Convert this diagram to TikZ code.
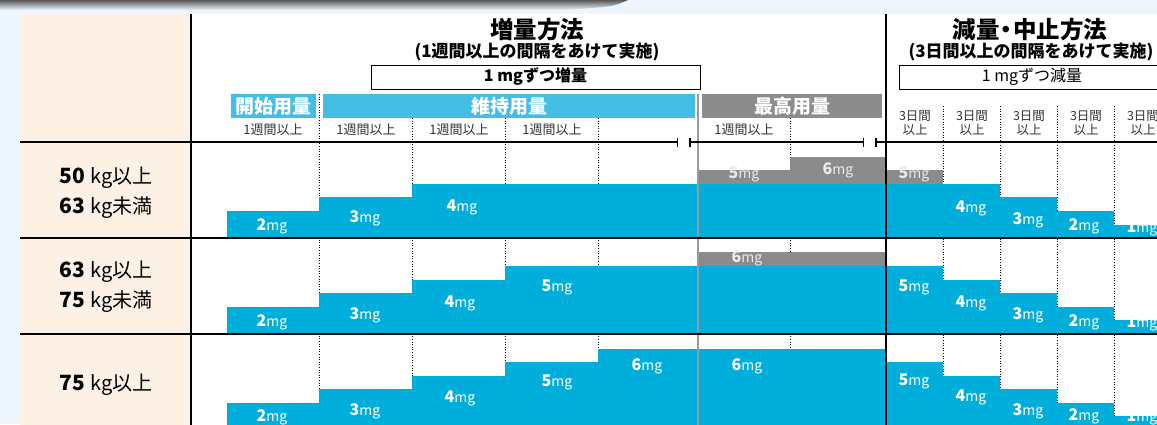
\documentclass[tikz,border=0pt]{standalone}
\usepackage{fontspec}
\setmainfont{Noto Sans CJK JP}
\usetikzlibrary{arrows.meta}
\definecolor{bgblue}{HTML}{EDF6FC}
\definecolor{peach}{HTML}{FDF1E6}
\definecolor{dosecyan}{HTML}{00AEDC}
\definecolor{hdrblue}{HTML}{45BEE6}
\definecolor{hdrgrey}{HTML}{8C8C8C}
\definecolor{dosegrey}{HTML}{8B8B8B}
\definecolor{capgrey}{HTML}{333333}
\newcommand{\dose}[1]{{\fontsize{16}{16}\selectfont\bfseries #1}{\fontsize{14}{14}\selectfont mg}}
\newcommand{\wnum}[1]{{\fontsize{21}{21}\selectfont\bfseries #1}\hspace{5pt}}

\begin{document}
\begin{tikzpicture}[x=1pt, y=-1pt,
  dotline/.style={line width=0.8pt, dash pattern=on 1pt off 1.6pt},
  dlabel/.style={text=white, inner sep=0pt},
  glabel/.style={text=black!8, inner sep=0pt},
  title/.style={font=\fontsize{23.5}{23.5}\selectfont\bfseries, inner sep=0pt},
  subtitle/.style={font=\fontsize{17}{17}\selectfont\bfseries, inner sep=0pt},
  hdrbox/.style={text=white, font=\fontsize{19}{19}\selectfont\bfseries, inner sep=0pt, minimum height=24pt},
  weekcap/.style={text=capgrey, font=\fontsize{13}{13}\selectfont, inner sep=0pt},
  daycap/.style={text=capgrey, font=\fontsize{12.5}{14}\selectfont, align=center, inner sep=0pt},
  rowlab/.style={font=\fontsize{20}{30}\selectfont, align=center, inner sep=0pt}]
\useasboundingbox (0,0) rectangle (1157,424);
\clip (0,0) rectangle (1157,424);
% background and table
\fill[bgblue] (0,0) rectangle (1157,424);
\shade[top color=black!65, bottom color=bgblue] (0,0) -- (628,0) .. controls (612,7) .. (560,10) -- (0,10) -- cycle;
\fill[white] (20,14) rectangle (1157,430);
\fill[peach] (20,14) rectangle (191,430);
% column separators
\draw[dotline] (319,94) -- (319,430);
\draw[dotline] (412,118) -- (412,430);
\draw[dotline] (505,118) -- (505,430);
\draw[dotline] (598,118) -- (598,430);
\draw[dotline] (790,118) -- (790,430);
\draw[dotline] (943,106) -- (943,430);
\draw[dotline] (1000,106) -- (1000,430);
\draw[dotline] (1057,106) -- (1057,430);
\draw[dotline] (1114,106) -- (1114,430);
% 50-63 kg
\fill[dosecyan] (227,238) -- (227,211) -- (319,211) -- (319,197) -- (412,197) -- (412,184) -- (1000,184) -- (1000,197) -- (1057,197) -- (1057,211) -- (1114,211) -- (1114,225) -- (1157,225) -- (1157,238) -- cycle;
\fill[dosegrey] (698,170) rectangle (790,184);
\fill[dosegrey] (790,157) rectangle (886,184);
\fill[dosegrey] (886,170) rectangle (943,184);
% 63-75 kg
\fill[dosecyan] (227,334) -- (227,307) -- (319,307) -- (319,293) -- (412,293) -- (412,280) -- (505,280) -- (505,266) -- (943,266) -- (943,280) -- (1000,280) -- (1000,293) -- (1057,293) -- (1057,307) -- (1114,307) -- (1114,320) -- (1157,320) -- (1157,334) -- cycle;
\fill[dosegrey] (698,252) rectangle (886,266);
% 75 kg
\fill[dosecyan] (227,430) -- (227,403) -- (319,403) -- (319,389) -- (412,389) -- (412,376) -- (505,376) -- (505,362) -- (598,362) -- (598,349) -- (886,349) -- (886,362) -- (943,362) -- (943,376) -- (1000,376) -- (1000,389) -- (1057,389) -- (1057,403) -- (1114,403) -- (1114,416) -- (1157,416) -- (1157,430) -- cycle;
% rules
\draw[line width=2pt, color=black!40] (698,94) -- (698,430);
\draw[line width=1.5pt] (191,14) -- (191,430);
\draw[line width=2pt] (886,14) -- (886,430);
\draw[line width=1.5pt, -{Bar[width=9pt]}] (20,142) -- (678,142);
\draw[line width=1.5pt, {Bar[width=9pt]}-{Bar[width=9pt]}] (689,142) -- (864,142);
\draw[line width=1.5pt, {Bar[width=9pt]}-] (875,142) -- (1157,142);
\draw[line width=1.2pt] (20,238) -- (1157,238);
\draw[line width=1.2pt] (20,334) -- (1157,334);
% headings
\node[title] (uptitle) at (537,30) {増量方法};
\node[subtitle] (upnote) at (537,52) {(1週間以上の間隔をあけて実施)};
\node[draw, line width=1pt, minimum width=329pt, minimum height=24pt, font=\fontsize{16}{16}\selectfont\bfseries, inner sep=0pt] (upbox) at (535.5,77) {1 mgずつ増量};
\node[title] (downtitle) at (1030,30) {減量\hspace{-0.22em}・\hspace{-0.22em}中止方法};
\node[subtitle] (downnote) at (1031,52) {(3日間以上の間隔をあけて実施)};
\node[draw, line width=1pt, minimum width=266pt, minimum height=24pt, font=\fontsize{16}{16}\selectfont, inner sep=0pt] (downbox) at (1032,77) {1 mgずつ減量};
\node[hdrbox, fill=hdrblue, minimum width=85pt] (startdose) at (273.5,106) {開始用量};
\node[hdrbox, fill=hdrblue, minimum width=372pt] (keepdose) at (509,106) {維持用量};
\node[hdrbox, fill=hdrgrey, minimum width=180pt] (maxdose) at (792,106) {最高用量};
\node[weekcap] (wk1) at (273,130) {1週間以上};
\node[weekcap] (wk2) at (366,130) {1週間以上};
\node[weekcap] (wk3) at (459,130) {1週間以上};
\node[weekcap] (wk4) at (552,130) {1週間以上};
\node[weekcap] (wk5) at (744,130) {1週間以上};
\node[daycap] (dy1) at (915,123) {3日間\\以上};
\node[daycap] (dy2) at (972,123) {3日間\\以上};
\node[daycap] (dy3) at (1029,123) {3日間\\以上};
\node[daycap] (dy4) at (1086,123) {3日間\\以上};
\node[daycap] (dy5) at (1143,123) {3日間\\以上};
% weight classes
\node[rowlab] (wtA) at (106,193) {\wnum{50}kg以上\\\wnum{63}kg未満};
\node[rowlab] (wtB) at (106,287) {\wnum{63}kg以上\\\wnum{75}kg未満};
\node[rowlab] (wtC) at (106,385) {\wnum{75}kg以上};
% dose labels
\foreach \px/\py/\mg [count=\i] in {272/226/2, 365/218/3, 462/207/4, 971/208/4, 1028/220/3, 1084/226/2, 1142/228/1}
  \node[dlabel] (dA\i) at (\px,\py) {\dose{\mg}};
\foreach \px/\py/\mg [count=\i] in {744/174/5, 838/170/6, 914/174/5}
  \node[glabel] (gA\i) at (\px,\py) {\dose{\mg}};
\foreach \px/\py/\mg [count=\i] in {272/322/2, 365/315/3, 460/303/4, 557/287/5, 914/287/5, 971/303/4, 1028/315/3, 1084/322/2, 1142/323/1}
  \node[dlabel] (dB\i) at (\px,\py) {\dose{\mg}};
\node[glabel] (gB1) at (747,258) {\dose{6}};
\foreach \px/\py/\mg [count=\i] in {272/417/2, 365/411/3, 460/398/4, 557/382/5, 647/366/6, 747/366/6, 914/381/5, 971/397/4, 1028/411/3, 1084/416/2, 1142/417/1}
  \node[dlabel] (dC\i) at (\px,\py) {\dose{\mg}};
\end{tikzpicture}
\end{document}
